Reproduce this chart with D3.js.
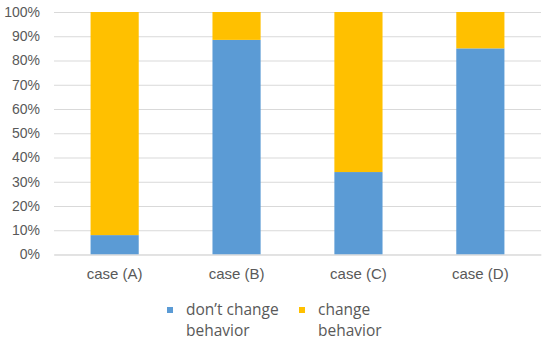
<!DOCTYPE html>
<html>
<head>
<meta charset="utf-8">
<script src="https://cdn.jsdelivr.net/npm/d3@7"></script>
<style>
  body { margin: 0; background: #fff; }
  svg { font-family: "Open Sans", "Noto Sans", sans-serif; }
</style>
</head>
<body>
<svg id="chart"></svg>
<script>
const categories = ["case (A)", "case (B)", "case (C)", "case (D)"];
const dontChange = [8, 88.5, 34, 85];
const change = [92, 11.5, 66, 15];
const seriesNames = ["don\u2019t change behavior", "change behavior"];
const yTicks = [0, 10, 20, 30, 40, 50, 60, 70, 80, 90, 100];

const width = 550, height = 343;
const margin = { top: 12, right: 9, bottom: 90, left: 54 };
const colors = ["#5B9BD5", "#FFC000"];

const svg = d3.select("#chart").attr("width", width).attr("height", height);

const rows = categories.map((c, i) => ({ cat: c, a: dontChange[i], b: change[i] }));
const stack = d3.stack().keys(["a", "b"]);
const series = stack(rows);

const x = d3.scaleBand()
    .domain(categories)
    .range([margin.left, width - margin.right])
    .paddingInner(0.605)
    .paddingOuter(0.3);

const y = d3.scaleLinear()
    .domain([0, 100])
    .range([height - margin.bottom + 1.5, margin.top]);

// grid lines + y labels
const yAxis = svg.append("g")
    .attr("transform", `translate(${margin.left}, 0)`)
    .call(d3.axisLeft(y).tickValues(yTicks).tickFormat(d => d + "%").tickSize(-(width - margin.left - margin.right)).tickPadding(14));
yAxis.select(".domain").remove();
yAxis.selectAll("line").attr("stroke", "#D9D9D9").attr("stroke-width", 1);
yAxis.selectAll("text")
    .attr("fill", "#595959")
    .style("font-size", "14px");

// bars
svg.append("g").selectAll("g")
    .data(series)
    .join("g")
    .attr("fill", (d, i) => colors[i])
    .selectAll("rect")
    .data(d => d)
    .join("rect")
    .attr("x", d => x(d.data.cat))
    .attr("y", d => y(d[1]))
    .attr("width", x.bandwidth())
    .attr("height", d => y(d[0]) - y(d[1]));

// x axis
const xAxis = svg.append("g")
    .attr("transform", `translate(0, ${y(0)})`)
    .call(d3.axisBottom(x).tickSize(0).tickPadding(14));
xAxis.select(".domain").attr("stroke", "#D9D9D9");
xAxis.selectAll("text")
    .attr("fill", "#595959")
    .style("font-size", "15px");

// legend
const legendX = [167, 299];
const legend = svg.append("g");
seriesNames.forEach((name, i) => {
    const g = legend.append("g").attr("transform", `translate(${legendX[i]}, 307)`);
    g.append("rect").attr("x", 0).attr("y", 0).attr("width", 6).attr("height", 6).attr("fill", colors[i]);
    const words = i === 0 ? ["don\u2019t change", "behavior"] : ["change", "behavior"];
    words.forEach((w, j) => {
        g.append("text")
            .attr("x", 19)
            .attr("y", 8 + j * 21)
            .attr("fill", "#595959")
            .style("font-size", "15.5px")
            .text(w);
    });
});
</script>
</body>
</html>
